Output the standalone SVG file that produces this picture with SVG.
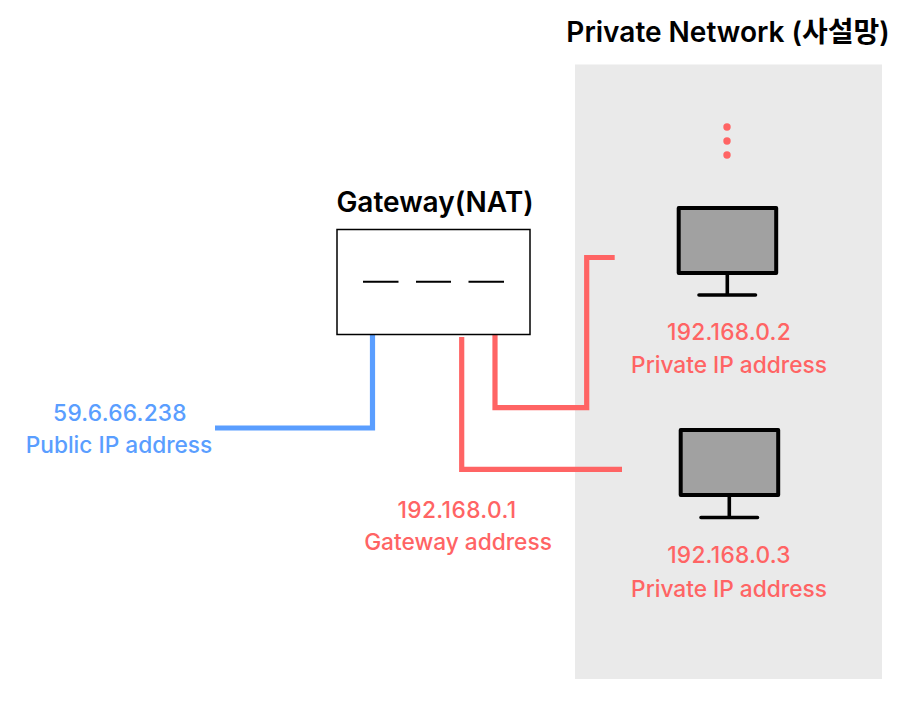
<svg xmlns="http://www.w3.org/2000/svg" width="910" height="701" viewBox="0 0 910 701">
<style>
text{font-family:Inter,"Noto Sans CJK KR","Noto Sans",sans-serif;text-anchor:middle;font-weight:500}
.t{font-size:28px;fill:#000;font-weight:600}
.r{font-size:22.7px;fill:#ff6464}
.b{font-size:22.7px;fill:#5a9eff}
.n{letter-spacing:.25px}
.w{fill:none;stroke-width:5.200}
.d{fill:none;stroke:#000;stroke-width:2}
.scr{fill:#a1a1a1;stroke:#000;stroke-width:4;stroke-linejoin:round}
.st{fill:none;stroke:#000;stroke-width:3.600;stroke-linecap:round}
</style>
<rect width="910" height="701" fill="#fff"/>
<g id="private-network"><rect x="575" y="64.500" width="307" height="614.500" fill="#eaeaea"/>
<text class="t" x="728" y="42">Private Network (사설망)</text>
<circle cx="727" cy="127" r="3.700" fill="#ff6464"/><circle cx="727" cy="141" r="3.700" fill="#ff6464"/><circle cx="727" cy="155" r="3.700" fill="#ff6464"/></g>
<g id="connectors">
<path class="w" stroke="#5a9eff" d="M215 428H372.500V335"/>
<path class="w" stroke="#ff6464" d="M495 335V407.700H586.700V257.500H614.700"/>
<path class="w" stroke="#ff6464" d="M461.700 337V469.300H622"/>
</g>
<g id="gateway"><rect x="337" y="229.500" width="193" height="105" fill="#fff" stroke="#000" stroke-width="1.500"/>
<path class="d" d="M363 281.700H398.500M416 281.700H451M468.500 281.700H504"/>
<text class="t" x="435" y="212">Gateway(NAT)</text></g>
<g id="pc2"><rect class="scr" x="678.700" y="208" width="97.500" height="65"/><path class="st" d="M727.300 275V295M699 295H755.500"/>
<text class="r n" x="729" y="340">192.168.0.2</text><text class="r" x="729" y="373">Private IP address</text></g>
<g id="pc3"><rect class="scr" x="680.700" y="430" width="97.500" height="65"/><path class="st" d="M729.300 497V517.500M701 517.500H757.500"/>
<text class="r n" x="729" y="563">192.168.0.3</text><text class="r" x="729" y="597">Private IP address</text></g>
<g id="public-ip"><text class="b n" x="120" y="421">59.6.66.238</text><text class="b" x="119" y="453">Public IP address</text></g>
<g id="gateway-ip"><text class="r n" x="457" y="518" style="letter-spacing:.4px">192.168.0.1</text><text class="r" x="458" y="550">Gateway address</text></g>
</svg>
